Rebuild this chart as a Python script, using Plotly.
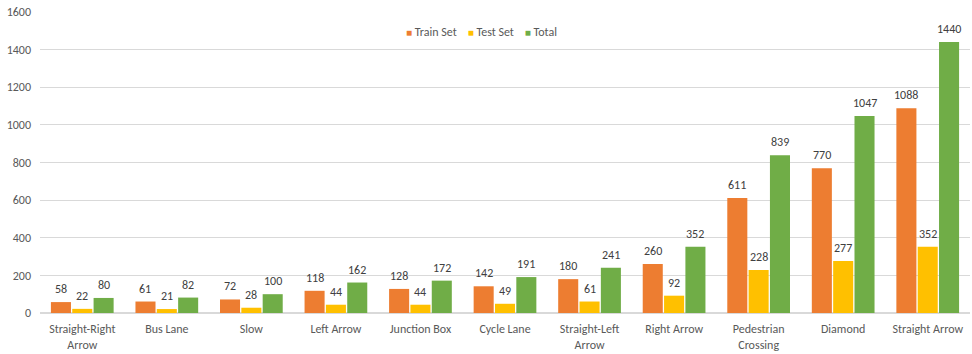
import plotly.graph_objects as go

categories = ["Straight-Right<br>Arrow", "Bus Lane", "Slow", "Left Arrow", "Junction Box",
              "Cycle Lane", "Straight-Left<br>Arrow", "Right Arrow", "Pedestrian<br>Crossing",
              "Diamond", "Straight Arrow"]
train_set = [58, 61, 72, 118, 128, 142, 180, 260, 611, 770, 1088]
test_set = [22, 21, 28, 44, 44, 49, 61, 92, 228, 277, 352]
total = [80, 82, 100, 162, 172, 191, 241, 352, 839, 1047, 1440]
y_ticks = [0, 200, 400, 600, 800, 1000, 1200, 1400, 1600]

series = [("Train Set", train_set, "#ED7D31"),
          ("Test Set", test_set, "#FFC000"),
          ("Total", total, "#70AD47")]

font_family = "Carlito, Liberation Sans, Arial, sans-serif"
W, H = 972, 354
ML, MR, MT, MB = 40, 2, 12, 41
BARGAP = 0.243

fig = go.Figure()
for name, vals, color in series:
    fig.add_trace(go.Bar(
        x=categories, y=vals, name=name,
        marker=dict(color=color, line=dict(width=0)),
        showlegend=False, hoverinfo="skip",
    ))

# data labels through the axes, shifted to the bar slot in the group
cat_px = (W - ML - MR) / len(categories)
slot_px = (1 - BARGAP) * cat_px / len(series)
annotations = []
for i, (name, vals, color) in enumerate(series):
    dx = (i - 1) * slot_px
    for c, v in zip(categories, vals):
        annotations.append(dict(x=c, y=v, xref="x", yref="y", text=str(v), showarrow=False,
                                xshift=dx, yshift=13, yanchor="middle",
                                font=dict(color="#404040", size=12, family=font_family)))

# legend
sq = lambda col: f'<span style="color:{col};font-size:10px">■</span>'
sp = "\u00a0"
legend_text = (sq("#ED7D31") + sp + "Train Set" + sp * 4 +
               sq("#FFC000") + sp + "Test Set" + sp * 4 +
               sq("#70AD47") + sp + "Total")
annotations.append(dict(x=0.4747, y=0.9336, xref="paper", yref="paper", text=legend_text,
                        showarrow=False, xanchor="center", yanchor="middle",
                        font=dict(size=12, color="#595959", family=font_family)))

fig.update_layout(
    width=W, height=H,
    margin=dict(l=ML, r=MR, t=MT, b=MB, autoexpand=False),
    paper_bgcolor="white", plot_bgcolor="white",
    barmode="group", bargap=BARGAP, bargroupgap=0.06,
    font=dict(family=font_family, size=12, color="#595959"),
    showlegend=False,
    annotations=annotations,
)
fig.update_yaxes(range=[0, 1600], tickvals=y_ticks, showgrid=True, gridcolor="#D9D9D9",
                 gridwidth=1, zeroline=True, zerolinecolor="#D9D9D9", showline=False,
                 ticks="", tickfont=dict(size=12, color="#595959"), ticklabelstandoff=8)
fig.update_xaxes(showgrid=False, showline=False, ticks="",
                 tickfont=dict(size=12, color="#595959"), tickangle=0, ticklabelstandoff=7)

fig.write_html("out.html", config={"displayModeBar": False},
               post_script="document.body.style.margin='0';")
